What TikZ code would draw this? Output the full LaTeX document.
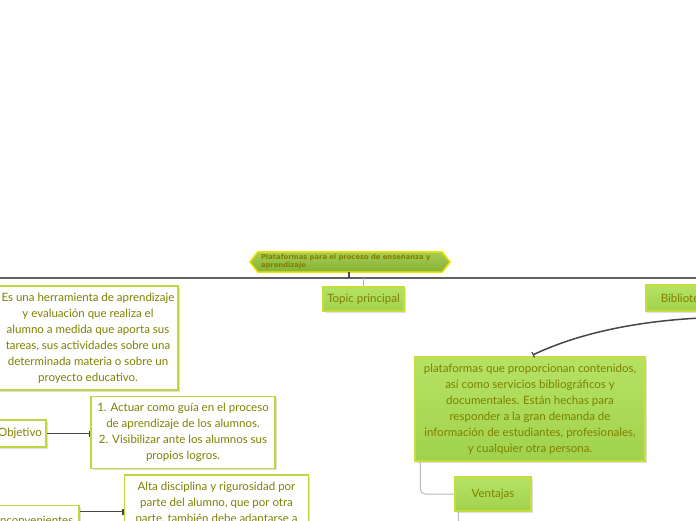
\documentclass[tikz,border=0pt]{standalone}
\usepackage{fontspec}
\setmainfont{Lato}
\newfontfamily\titlefont{DejaVu Sans}
\usetikzlibrary{arrows.meta,shadows,calc,backgrounds}
\definecolor{olivetext}{RGB}{128,128,0}
\definecolor{boxborder}{RGB}{192,214,62}
\definecolor{greenborder}{RGB}{200,220,60}
\definecolor{greentop}{RGB}{182,226,100}
\definecolor{greenbot}{RGB}{160,210,76}
\definecolor{titletop}{RGB}{168,204,84}
\definecolor{titlebot}{RGB}{132,178,52}
\definecolor{titleborder}{RGB}{238,228,0}
\definecolor{darkline}{RGB}{70,70,70}
\definecolor{grayline}{RGB}{185,185,185}
\tikzset{
  txt/.style={text=olivetext, font=\fontsize{11.5}{16}\selectfont, align=center, inner sep=0pt},
  shadowed/.style={drop shadow={opacity=.25, shadow xshift=1.5pt, shadow yshift=-1.5pt}},
  whitebox/.style={txt, draw=boxborder, line width=1.8pt, fill=white, shadowed},
  greenbox/.style={txt, draw=greenborder, line width=1.5pt, top color=greentop, bottom color=greenbot, shadowed},
  darkconn/.style={draw=darkline, line width=1.5pt, -{Bar[width=6pt,line width=1.2pt]}},
  grayconn/.style={draw=grayline, line width=1pt},
}
\begin{document}
\begin{tikzpicture}[x=1pt,y=-1pt]
\useasboundingbox (0,0) rectangle (696,520);
\clip (0,0) rectangle (696,520);

% title
\node[inner sep=0pt, minimum width=184pt, minimum height=20pt, text width=178pt, align=left,
      font=\titlefont\bfseries\fontsize{6.8}{8}\selectfont, text=olivetext] (title) at (350,262)
      {Plataformas para el proceso de enseñanza y aprendizaje};
\begin{scope}[on background layer]
\draw[titleborder, line width=1.5pt, top color=titletop, bottom color=titlebot]
  (title.north west) -- (title.north east) -- ($(title.east)+(8,0)$) -- (title.south east)
  -- (title.south west) -- ($(title.west)+(-8,0)$) -- cycle;
\end{scope}

% main horizontal line
\coordinate (hlL) at (0,278);
\coordinate (hlR) at (696,278);
\draw[draw=darkline!85, line width=1.2pt] (hlL) -- (hlR);
\coordinate (tick) at (349,272);
\draw[draw=darkline, line width=1.5pt] (tick) -- (tick |- hlL);

% Topic principal
\node[greenbox, minimum width=81pt, minimum height=24pt] (topic) at (363.5,299) {Topic principal};
\draw[grayconn] (topic.north) -- (topic.north |- hlL);

% Biblioteca
\node[greenbox, anchor=west, minimum height=26pt, inner xsep=15pt] (bib) at (645,298) {Biblioteca};

% plataformas box
\node[greenbox, minimum width=230pt, minimum height=104pt] (plat) at (530,409)
 {plataformas que proporcionan contenidos,\\ así como servicios bibliográficos y\\ documentales. Están hechas para\\ responder a la gran demanda de\\ información de estudiantes, profesionales,\\ y cualquier otra persona.};

\coordinate (bibend) at (740,317);
\draw[darkconn, shorten >=3pt] (bibend) .. controls (640,317) and (575,335) .. (plat.north);

% Ventajas
\node[greenbox, minimum width=76pt, minimum height=34pt] (vent) at (493,494) {Ventajas};
\draw[grayconn, rounded corners=5pt] ($(plat.south west)+(6,0)$) |- (vent.west);
\coordinate (vdown) at (459,530);
\draw[grayconn] ($(vent.south west)+(4,0)$) -- (vdown);

% left: description
\node[whitebox, minimum width=180pt, minimum height=104pt] (desc) at (88,338)
 {Es una herramienta de aprendizaje\\ y evaluación que realiza el\\ alumno a medida que aporta sus\\ tareas, sus actividades sobre una\\ determinada materia o sobre un\\ proyecto educativo.};

% Objetivo
\node[whitebox, minimum width=52pt, minimum height=27pt] (obj) at (20,433.5) {Objetivo};
\node[whitebox, minimum width=184pt, minimum height=72pt] (objtxt) at (183,432.5)
 {1. Actuar como guía en el proceso\\ de aprendizaje de los alumnos.\\ 2. Visibilizar ante los alumnos sus\\ propios logros.};
\draw[darkconn] (obj.east) -- (objtxt.west |- obj.east);

% Inconvenientes
\node[whitebox, minimum width=88pt, minimum height=30pt, anchor=north east] (inc) at (80,504.5) {Inconvenientes};
\node[whitebox, minimum width=184pt, minimum height=91pt] (alta) at (216.5,520.5)
 {Alta disciplina y rigurosidad por\\ parte del alumno, que por otra\\ parte, también debe adaptarse a\\ \strut\\ \strut};
\coordinate (incy) at ($(inc.north east)+(0,7)$);
\draw[darkconn] (incy) -- (alta.west |- incy);
\end{tikzpicture}
\end{document}
